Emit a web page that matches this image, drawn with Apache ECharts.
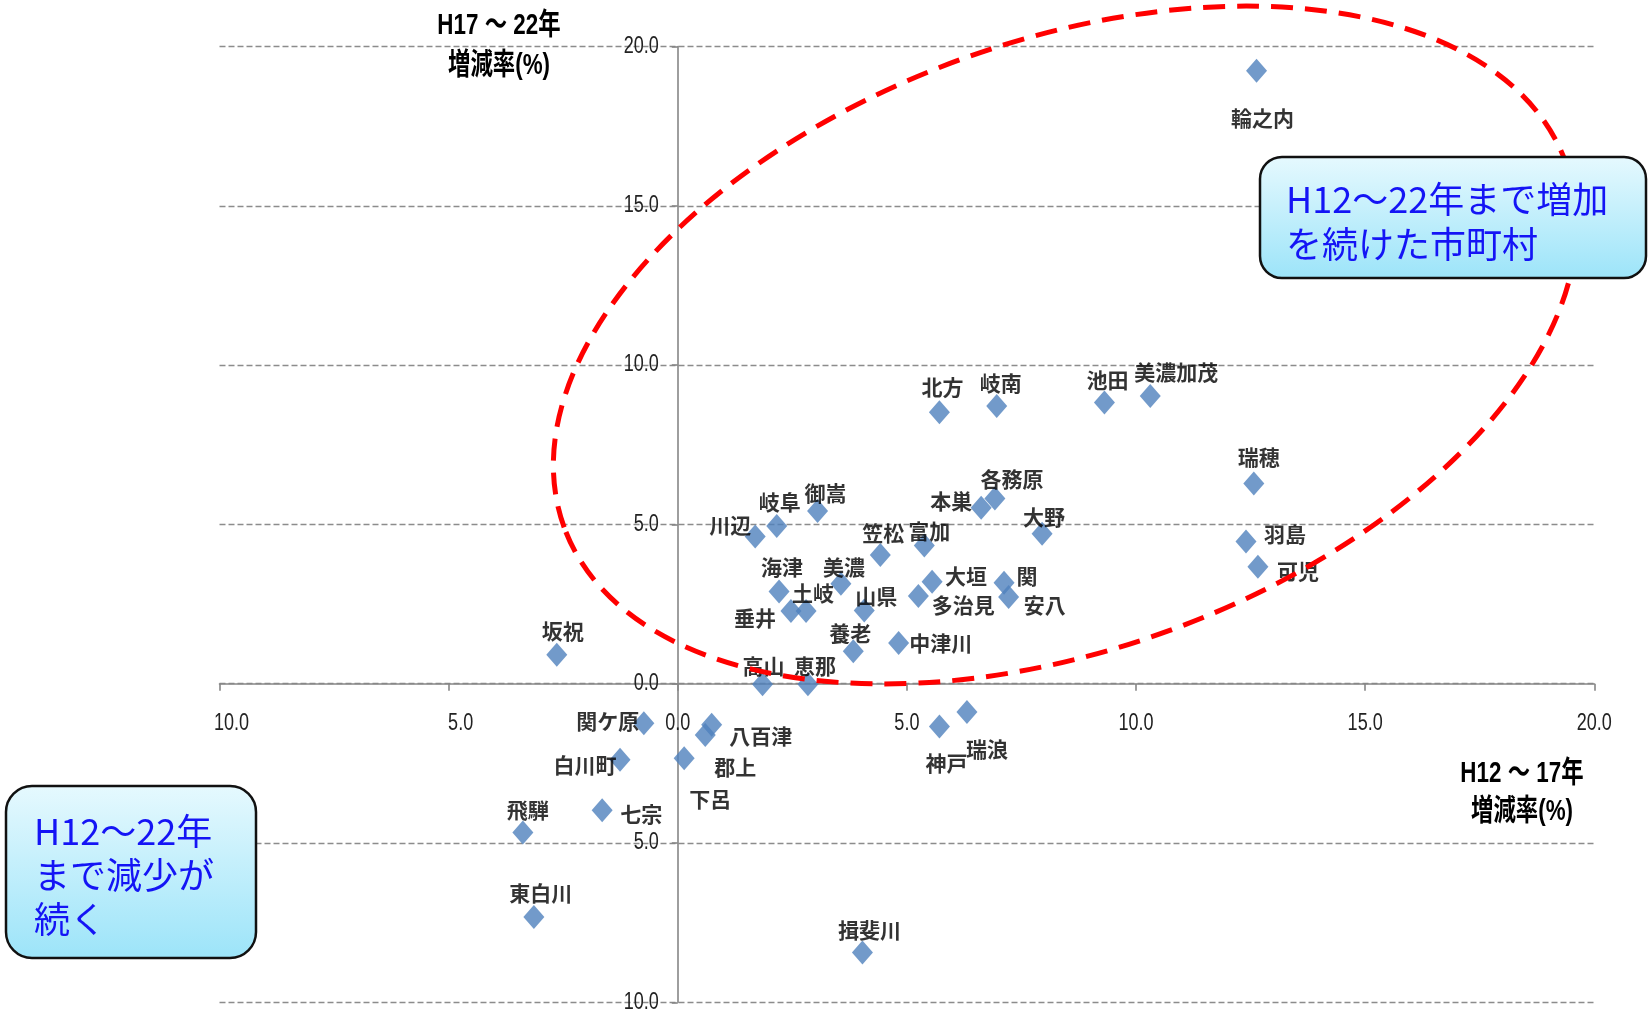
<!DOCTYPE html>
<html><head><meta charset="utf-8">
<script src="https://cdn.jsdelivr.net/npm/echarts@6/dist/echarts.min.js"></script>
<style>html,body{margin:0;padding:0;background:#fff;}#c{width:1648px;height:1009px;}</style>
</head><body><div id="c"></div>
<script>
// municipalities
const names = ['輪之内','瑞穂','羽島','可児','美濃加茂','池田','北方','岐南','各務原','本巣','大野','富加','笠松','川辺','岐阜','御嵩','海津','美濃','土岐','垂井','山県','大垣','多治見','関','安八','養老','中津川','高山','恵那','坂祝','関ケ原','八百津','郡上','下呂','白川町','七宗','飛騨','東白川','揖斐川','神戸','瑞浪'];
// H12~17 change rate (%)
const rateH12to17 = [12.63,12.57,12.40,12.66,10.31,9.31,5.71,6.96,6.92,6.62,7.95,5.38,4.42,1.69,2.16,3.05,2.21,3.56,2.80,2.47,4.07,5.55,5.25,7.12,7.22,3.83,4.82,1.85,2.84,-2.64,-0.74,0.74,0.60,0.14,-1.26,-1.65,-3.38,-3.14,4.03,5.71,6.31];
// H17~22 change rate (%)
const rateH17to22 = [19.24,6.28,4.46,3.67,9.03,8.83,8.52,8.72,5.81,5.52,4.71,4.34,4.04,4.62,4.95,5.42,2.89,3.14,2.28,2.28,2.30,3.20,2.75,3.17,2.72,1.02,1.28,-0.02,-0.02,0.91,-1.24,-1.29,-1.61,-2.34,-2.39,-3.97,-4.67,-7.32,-8.44,-1.34,-0.89];
// axis ticks
const xTicks = [-10,-5,0,5,10,15,20];
const yTicks = [-10,-5,0,5,10,15,20];
// annotation texts
const xAxisTitle = 'H12 ～ 17年\n増減率(%)';
const yAxisTitle = 'H17 ～ 22年\n増減率(%)';
const calloutUp = 'H12～22年まで増加\nを続けた市町村';
const calloutDown = 'H12～22年\nまで減少が\n続く';

// label placement (style): offset of label centre from marker centre, px
const labelOffsets = [[6,47],[5,-27],[39,-8],[40,4],[26,-24],[3,-22],[3,-25],[4,-23],[17,-20],[-30,-7],[2,-17],[5,-14],[3,-22],[-25,-11],[3,-24],[8,-18],[3,-25],[3,-17],[7,-18],[-36,7],[12,-14],[34,-6],[45,9],[23,-7],[36,8],[-3,-18],[42,0],[1,-18],[7,-18],[6,-24],[-36,-2],[49,11],[30,32],[26,41],[-35,5],[39,4],[5,-22],[7,-24],[7,-23],[7,37],[20,37]];

const numFont = "'Liberation Sans',Arial,sans-serif";
const jpFont = "'Noto Sans CJK JP',sans-serif";
const titleFont = "'Liberation Sans','Noto Sans CJK JP',sans-serif";

const chart = echarts.init(document.getElementById('c'));
const fmt = v => Math.abs(v).toFixed(1);
const axisGrey = '#868686';

chart.setOption({
  animation: false,
  backgroundColor: '#fff',
  grid: {left: 219.5, right: 53.7, top: 46.5, bottom: 6.7, containLabel: false, outerBoundsMode: 'none'},
  xAxis: {
    type: 'value', min: xTicks[0], max: xTicks[xTicks.length-1], interval: xTicks[1]-xTicks[0],
    axisLine: {onZero: true, lineStyle: {color: axisGrey, width: 1.6}},
    axisTick: {show: true, length: 7, lineStyle: {color: axisGrey, width: 1.6}},
    axisLabel: {show: false},
    splitLine: {show: false}
  },
  yAxis: {
    type: 'value', min: yTicks[0], max: yTicks[yTicks.length-1], interval: yTicks[1]-yTicks[0],
    axisLine: {onZero: true, lineStyle: {color: axisGrey, width: 1.6}},
    axisTick: {show: true, length: 6, lineStyle: {color: axisGrey, width: 1.6}},
    axisLabel: {show: false},
    splitLine: {show: true, lineStyle: {color: '#8c8c8c', width: 1.3, type: [6,3]}}
  },
  series: [{
    type: 'scatter',
    symbol: 'diamond',
    symbolSize: [21, 24],
    itemStyle: {color: '#4F81BD'},
    label: {show: true, position: 'inside', formatter: '{b}', color: '#000', fontSize: 21, fontFamily: jpFont, fontWeight: 'bold', align: 'center', verticalAlign: 'middle'},
    data: names.map((n, i) => ({name: n, value: [rateH12to17[i], rateH17to22[i]], label: {offset: labelOffsets[i]}})),
    z: 5
  }]
});

const graphics = [];
// tick labels, placed with the chart's own scales (axes sit on the zero lines)
xTicks.forEach(v => {
  const p = chart.convertToPixel({gridIndex: 0}, [v, 0]);
  graphics.push({type: 'text', x: p[0] + (v < 0 ? 12 : 0), y: p[1] + 40, scaleX: 0.82, scaleY: 1.05, z: 50, silent: true,
    style: {text: fmt(v), fill: '#222', fontSize: 22, fontFamily: numFont, align: 'center', verticalAlign: 'middle'}});
});
yTicks.forEach(v => {
  const p = chart.convertToPixel({gridIndex: 0}, [0, v]);
  graphics.push({type: 'text', x: p[0] - 19, y: p[1], scaleX: 0.82, scaleY: 1.05, z: 50, silent: true,
    style: {text: fmt(v), fill: '#222', fontSize: 22, fontFamily: numFont, align: 'right', verticalAlign: 'middle'}});
});

// dashed ellipse annotation, centred at a data point
const ellipseCentre = [8.45, 10.63];
const ec = chart.convertToPixel({gridIndex: 0}, ellipseCentre);
const boxFill = {type: 'linear', x: 0, y: 0, x2: 0, y2: 1, colorStops: [{offset: 0, color: '#e6f9fe'}, {offset: 1, color: '#9ce4f9'}]};

graphics.push(
  {type: 'ellipse', x: ec[0], y: ec[1], rotation: 20 * Math.PI / 180, z: 100, silent: true,
   shape: {cx: 0, cy: 0, rx: 533, ry: 304},
   style: {fill: null, stroke: '#ff0000', lineWidth: 5, lineDash: [22, 12]}},
  {type: 'rect', z: 110, shape: {x: 1260, y: 157, width: 386, height: 121, r: 22},
   style: {fill: boxFill, stroke: '#111', lineWidth: 2.5}},
  {type: 'text', z: 111, style: {text: calloutUp, x: 1286, y: 176.5, fill: '#1414f5', fontSize: 36, fontFamily: jpFont, lineHeight: 45, align: 'left', verticalAlign: 'top'}},
  {type: 'rect', z: 110, shape: {x: 6, y: 786, width: 250, height: 172, r: 26},
   style: {fill: boxFill, stroke: '#111', lineWidth: 2.5}},
  {type: 'text', z: 111, style: {text: calloutDown, x: 34, y: 809, fill: '#1414f5', fontSize: 36, fontFamily: jpFont, lineHeight: 44, align: 'left', verticalAlign: 'top'}},
  {type: 'text', z: 111, x: 499, y: 5.7, scaleX: 0.8, scaleY: 1.06, style: {text: yAxisTitle, x: 0, y: 0, fill: '#000', fontSize: 28, fontWeight: 'bold', fontFamily: titleFont, lineHeight: 37.5, align: 'center', verticalAlign: 'top'}},
  {type: 'text', z: 111, x: 1522, y: 755, scaleX: 0.8, scaleY: 1.06, style: {text: xAxisTitle, x: 0, y: 0, fill: '#000', fontSize: 28, fontWeight: 'bold', fontFamily: titleFont, lineHeight: 36, align: 'center', verticalAlign: 'top'}}
);

chart.setOption({graphic: graphics});
</script>
</body></html>
